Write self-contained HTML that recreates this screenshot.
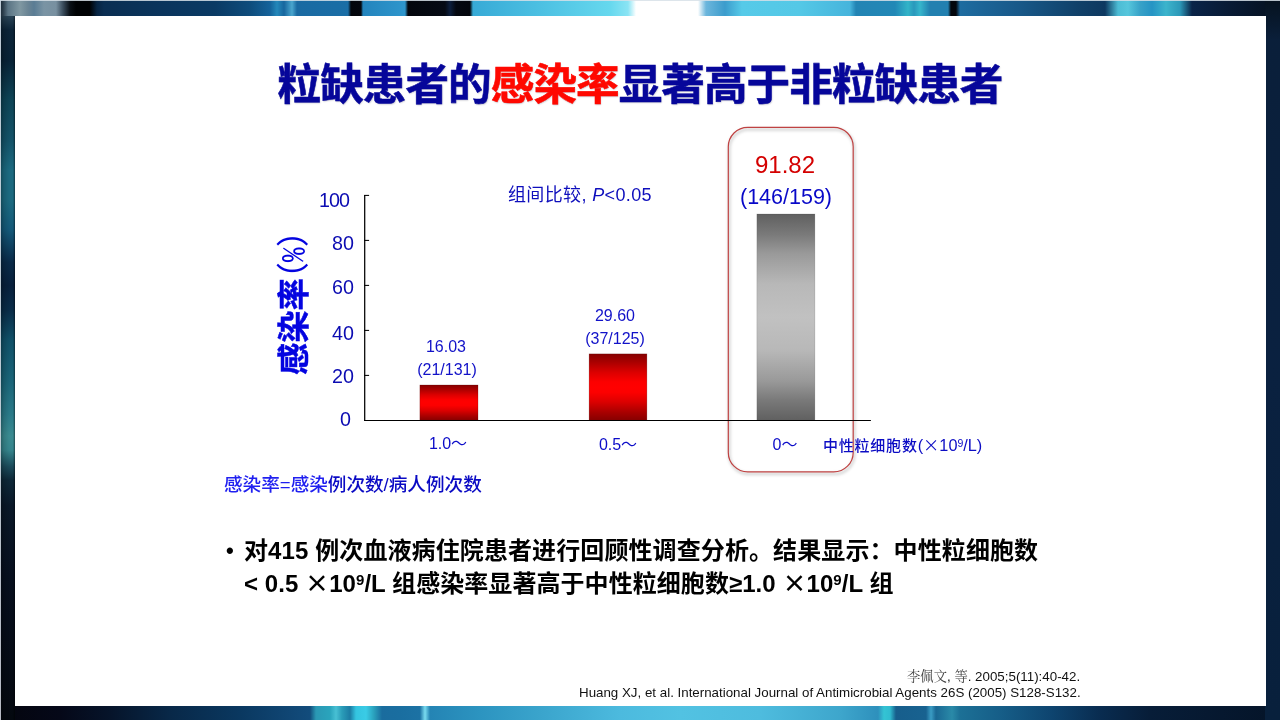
<!DOCTYPE html>
<html lang="zh-CN">
<head>
<meta charset="utf-8">
<title>粒缺患者的感染率显著高于非粒缺患者</title>
<style>
*{margin:0;padding:0;box-sizing:border-box}
html,body{width:1280px;height:720px;overflow:hidden;background:#0a1e38}
body{position:relative;font-family:"Liberation Sans","Noto Sans CJK SC",sans-serif}
.abs{position:absolute;white-space:nowrap}
div.abs{will-change:transform}
#bt{left:0;top:0;width:1280px;height:16px;
 background:linear-gradient(90deg,
 #1c2a36 0px,#2a3c4a 3px,#5a7484 8px,#8098a2 20px,#6a8494 28px,#5a7c94 34px,#7a94a4 44px,#7890a0 56px,#3a4c5c 63px,#0a1016 70px,#000204 76px,#000204 90px,#072442 97px,#0a2e52 104px,#0a345c 160px,#0a3a64 215px,#0e4c7c 250px,#14629a 270px,#2488ba 277px,#17669e 284px,#4aa6ce 292px,#1a6aa2 297px,#1a6ea6 348px,
 #03060c 351px,#04070e 361px,#2384bd 363px,#2e96cc 405px,#03060c 408px,#050a14 445px,#0c1e3c 450px,#040810 456px,#03060c 470px,
 #37aad6 473px,#4cc0e2 540px,#66d8ee 610px,#8ae4f4 628px,#ffffff 636px,#ffffff 698px,#6cb6dc 706px,#3c9ccc 725px,#56cae8 742px,#54c8e6 800px,#46b4dc 850px,
 #2284b4 856px,#2288b6 895px,#32b4c8 908px,#2a98bc 914px,#36b6cc 920px,#2280b0 930px,#2280b0 948px,#03060c 951px,#03060c 956px,
 #1e6ca0 960px,#185888 1020px,#104068 1080px,#0e3860 1105px,#4cbcd4 1118px,#56c6dc 1128px,#38a2c8 1140px,#2694c4 1152px,#3cb4cc 1166px,#2c98b8 1180px,#0a2448 1192px,#081a34 1230px,#05101e 1280px)}
#bb{left:0;top:706px;width:1280px;height:14px;
 background:linear-gradient(90deg,
 #04050e 0px,#050818 60px,#06142a 110px,#082848 170px,#0a3860 240px,#104674 290px,#124c7c 310px,#2a98b4 316px,#2aa4bc 330px,#48c0d4 336px,#2a9cb8 342px,#1c7ca4 350px,#34c4e0 356px,#3acce6 366px,#2aa0bc 374px,#1a6c9e 382px,#1a6ea0 400px,#1c72a4 420px,
 #7adcf0 425px,#2484b4 430px,#2c94c0 480px,#3aa4cc 540px,#4cbade 620px,#52c2e2 680px,#4ebcde 760px,#3ea6cc 840px,#2e90bc 878px,#34c4d4 884px,#30bcd0 890px,#175e8c 896px,#186290 926px,#3a9cc4 931px,#1a6894 936px,
 #2a8aa8 952px,#1c7096 960px,#165e88 1000px,#0e4570 1050px,#092c50 1100px,#071d38 1150px,#051428 1280px)}
#bl{left:0;top:16px;width:15px;height:704px;
 background:linear-gradient(180deg,
 #2a4456 0px,#0c2438 14px,#082236 44px,#0e4456 84px,#145268 124px,#1c6a80 154px,#1c6a80 184px,#145878 214px,#0a2a48 246px,#08203c 269px,#0a2c48 294px,#105068 324px,#1a6478 364px,#2a7a88 399px,#3a8a90 420px,#35848c 434px,#1c4c5c 450px,#0e2838 464px,#0a1828 490px,#070f1e 560px,#04080f 704px)}
#br{left:1265px;top:0;width:15px;height:720px;background:linear-gradient(180deg,#06121f 0px,#0a1f3a 40px,#0a2140 360px,#08203c 720px)}
#bls{left:0;top:16px;width:15px;height:704px;background:linear-gradient(90deg,rgba(0,0,0,.35) 0px,rgba(0,0,0,.12) 4px,rgba(0,0,0,0) 9px,rgba(0,0,0,0) 13px,rgba(0,0,0,.45) 15px)}
#lt{left:0;top:0;width:1280px;height:1px;background:rgba(215,225,232,.85)}
#ll{left:0;top:0;width:1px;height:720px;background:linear-gradient(180deg,rgba(205,218,228,.92) 0px,rgba(205,215,225,.9) 460px,rgba(198,202,212,.92) 720px)}
#panel{left:15px;top:16px;width:1251px;height:690px;background:#fff}
#title{left:0;top:55px;width:1280px;text-align:center;font-family:"Liberation Sans","Noto Sans CJK SC",sans-serif;font-weight:700;font-size:43.6px;letter-spacing:-0.95px;line-height:60px;color:#06069a;-webkit-text-stroke:0.55px #06069a;text-shadow:0.6px 1.2px 1.5px rgba(0,0,40,.22);left:0px}
#title b{color:#ff0800;font-weight:700;-webkit-text-stroke:0.55px #ff0800}
.bl{color:#0c0cb2}
.bl2{color:#1212c8}
.bl3{color:#0c0cc8}
.yl{font-size:19.7px;line-height:24px}
.v{font-size:16px;line-height:20px;text-align:center;width:120px}
.fw{font-family:"Noto Sans CJK SC",sans-serif;font-feature-settings:"fwid"}
.bul{font-size:24px;line-height:34px;font-weight:700;color:#000}
.bul sup{font-size:15px;vertical-align:7px;line-height:0}
.ref{font-size:13.33px;line-height:16px;color:#111}
#ylab{left:222.3px;top:285px;width:140px;height:40px;line-height:40px;text-align:left;transform:rotate(-90deg);transform-origin:50% 50%;font-family:"Liberation Sans","Noto Sans CJK SC",sans-serif;color:#0404e0}
#ylab .k{font-weight:700;font-size:32.3px;letter-spacing:0px;-webkit-text-stroke:0.45px #0404e0}
#ylab .p{font-family:"Noto Sans CJK SC",sans-serif;font-feature-settings:"hwid";font-size:31px;font-weight:400;letter-spacing:-1.4px;margin-left:1.6px;position:relative;top:-2.7px}
</style>
</head>
<body>
<div class="abs" id="bt"></div>
<div class="abs" id="bb"></div>
<div class="abs" id="bl"></div>
<div class="abs" id="bls"></div>
<div class="abs" id="br"></div>
<div class="abs" id="lt"></div>
<div class="abs" id="ll"></div>
<div class="abs" id="panel"></div>

<div class="abs" id="title">粒缺患者的<b>感染率</b>显著高于非粒缺患者</div>

<!-- chart -->
<svg class="abs" style="left:0;top:0" width="1280" height="720" viewBox="0 0 1280 720">
<defs><filter id="sh" x="-10%" y="-5%" width="120%" height="110%"><feGaussianBlur stdDeviation="1.4"/></filter>
<linearGradient id="gr" x1="0" y1="0" x2="0" y2="1"><stop offset="0" stop-color="#860000"/><stop offset=".12" stop-color="#a80000"/><stop offset=".28" stop-color="#dc0000"/><stop offset=".42" stop-color="#fc0000"/><stop offset=".5" stop-color="#ff0000"/><stop offset=".58" stop-color="#fc0000"/><stop offset=".72" stop-color="#dc0000"/><stop offset=".88" stop-color="#a80000"/><stop offset="1" stop-color="#860000"/></linearGradient>
<linearGradient id="gg" x1="0" y1="0" x2="0" y2="1"><stop offset="0" stop-color="#606060"/><stop offset=".1" stop-color="#7a7a7a"/><stop offset=".19" stop-color="#999"/><stop offset=".34" stop-color="#b8b8b8"/><stop offset=".5" stop-color="#c1c1c1"/><stop offset=".66" stop-color="#b8b8b8"/><stop offset=".81" stop-color="#999"/><stop offset=".9" stop-color="#7a7a7a"/><stop offset="1" stop-color="#606060"/></linearGradient></defs>
<rect x="729.3" y="129.3" width="124.9" height="344.6" rx="19.5" ry="19.5" fill="none" stroke="#000" stroke-opacity=".2" stroke-width="2.2" filter="url(#sh)"/>
<rect x="728.3" y="127.3" width="124.9" height="344.6" rx="19.5" ry="19.5" fill="none" stroke="#bf4242" stroke-width="1.2"/>
<rect x="419.9" y="385" width="58.1" height="35.4" fill="url(#gr)" stroke="#500000" stroke-opacity=".45" stroke-width=".5"/>
<rect x="589.1" y="353.9" width="57.8" height="66.5" fill="url(#gr)" stroke="#500000" stroke-opacity=".45" stroke-width=".5"/>
<rect x="756.9" y="214" width="58" height="206.4" fill="url(#gg)" stroke="#404040" stroke-opacity=".35" stroke-width=".5"/>
<g stroke="#000" fill="none">
<line x1="364.7" y1="194.9" x2="364.7" y2="420.95" stroke-width="1.25"/>
<line x1="364.1" y1="420.45" x2="870.9" y2="420.45" stroke-width="1.05"/>
<line x1="364.1" y1="195.4" x2="369.1" y2="195.4" stroke-width="1.05"/>
<line x1="364.1" y1="240.4" x2="369.1" y2="240.4" stroke-width="1.05"/>
<line x1="364.1" y1="285.4" x2="369.1" y2="285.4" stroke-width="1.05"/>
<line x1="364.1" y1="330.4" x2="369.1" y2="330.4" stroke-width="1.05"/>
<line x1="364.1" y1="375.4" x2="369.1" y2="375.4" stroke-width="1.05"/>
</g>
</svg>

<div class="abs bl yl" style="left:319px;top:188px;letter-spacing:-0.9px">100</div>
<div class="abs bl yl" style="left:331.5px;top:231px">80</div>
<div class="abs bl yl" style="left:331.5px;top:275px">60</div>
<div class="abs bl yl" style="left:331.5px;top:321.2px">40</div>
<div class="abs bl yl" style="left:331.5px;top:364px">20</div>
<div class="abs bl yl" style="left:340px;top:407.3px">0</div>

<div class="abs" id="ylab"><span class="k">感染率</span><span class="p">(<span style="position:relative;top:2.2px">%</span>)</span></div>


<div class="abs bl2 v" style="left:386.3px;top:337.2px">16.03</div>
<div class="abs bl2 v" style="left:387px;top:360px">(21/131)</div>
<div class="abs bl2 v" style="left:554.7px;top:306.3px">29.60</div>
<div class="abs bl2 v" style="left:555px;top:329px">(37/125)</div>

<div class="abs" style="left:705.3px;top:149.6px;width:160px;text-align:center;font-size:24px;line-height:30px;color:#d40000">91.82</div>
<div class="abs" style="left:705.8px;top:181.5px;width:160px;text-align:center;font-size:21.5px;line-height:30px;color:#0808c8">(146/159)</div>

<div class="abs bl" style="left:507.5px;top:183px;font-size:18px;line-height:24px;letter-spacing:0.36px;font-weight:400;color:#0e0ebc">组间比较, <i>P</i>&lt;0.05</div>

<div class="abs bl3 v" style="left:388px;top:434px">1.0～</div>
<div class="abs bl3 v" style="left:558px;top:435px">0.5～</div>
<div class="abs bl3 v" style="left:725px;top:435px">0～</div>
<div class="abs" style="left:822.8px;top:434.3px;font-size:16.25px;line-height:20px;color:#0c0cc4"><span style="font-size:15px;letter-spacing:0.78px;font-weight:500">中性粒细胞数</span>(<span class="fw">×</span>10<sup style="font-size:10.5px;vertical-align:4px;line-height:0">9</sup>/L)</div>

<div class="abs" style="left:224px;top:471.6px;font-size:18.6px;line-height:26px;color:#2020f0;font-weight:500">感染率=感染<span style="color:#0a0ac4">例次数/病人例次数</span></div>

<!-- bullet -->
<div class="abs" style="left:226px;top:533.8px;font-size:22px;line-height:34px;font-weight:700;color:#000;font-family:'Liberation Sans',sans-serif">•</div>
<div class="abs bul" style="left:244px;top:534px;letter-spacing:0.1px">对415 例次血液病住院患者进行回顾性调查分析。结果显示：中性粒细胞数</div>
<div class="abs bul" style="left:244px;top:565.3px;letter-spacing:0.06px">&lt; 0.5 <span class="fw">×</span>10<sup>9</sup>/L 组感染率显著高于中性粒细胞数≥1.0 <span class="fw">×</span>10<sup>9</sup>/L 组</div>

<!-- refs -->
<div class="abs ref" style="right:199.5px;top:669px;font-family:'Liberation Sans','Noto Serif CJK SC',serif"><span style="color:#444">李佩文</span>, <span style="color:#444">等</span>. 2005;5(11):40-42.</div>
<div class="abs ref" style="right:199.5px;top:684.8px">Huang XJ, et al. International Journal of Antimicrobial Agents 26S (2005) S128-S132.</div>
</body>
</html>
